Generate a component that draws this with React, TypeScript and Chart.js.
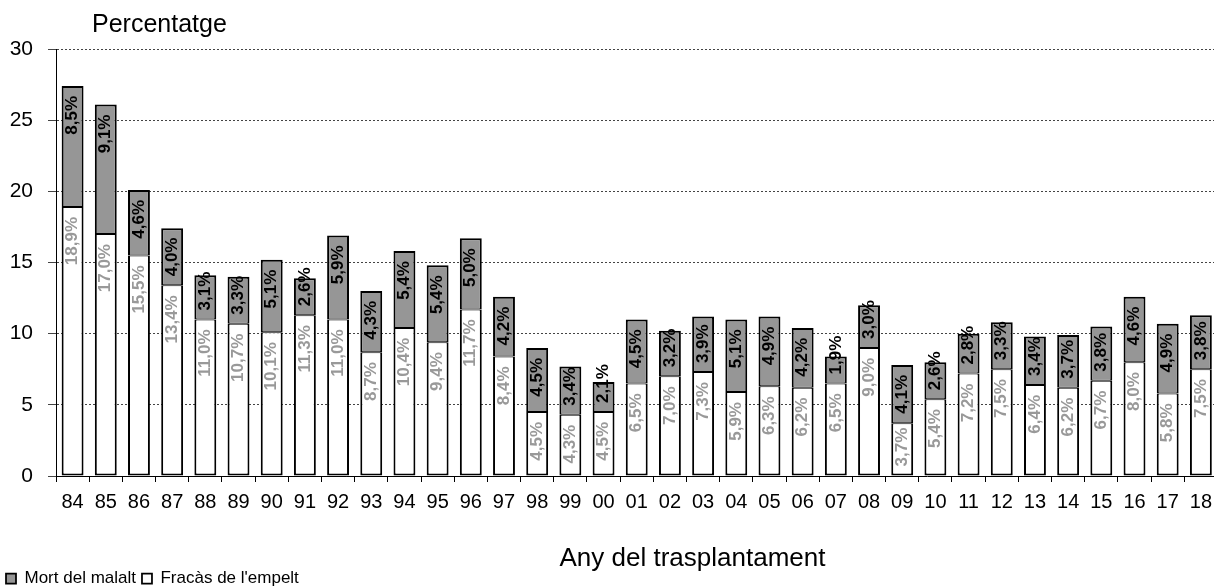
import React, { useEffect, useRef } from "react";
import { Chart, registerables } from "chart.js";

Chart.register(...registerables);

const FONT = '"Liberation Sans", Arial, sans-serif';

const years = ["84","85","86","87","88","89","90","91","92","93","94","95","96","97","98","99","00","01","02","03","04","05","06","07","08","09","10","11","12","13","14","15","16","17","18"];

const fracasEmpelt = [18.9,17.0,15.5,13.4,11.0,10.7,10.1,11.3,11.0,8.7,10.4,9.4,11.7,8.4,4.5,4.3,4.5,6.5,7.0,7.3,5.9,6.3,6.2,6.5,9.0,3.7,5.4,7.2,7.5,6.4,6.2,6.7,8.0,5.8,7.5];

const mortMalalt = [8.5,9.1,4.6,4.0,3.1,3.3,5.1,2.6,5.9,4.3,5.4,5.4,5.0,4.2,4.5,3.4,2.1,4.5,3.2,3.9,5.1,4.9,4.2,1.9,3.0,4.1,2.6,2.8,3.3,3.4,3.7,3.8,4.6,4.9,3.8];

const yTicks = [0, 5, 10, 15, 20, 25, 30];

const yTitle = "Percentatge";
const xTitle = "Any del trasplantament";
const labelFracas = "Fracàs de l'empelt";
const labelMort = "Mort del malalt";

const fmt = (v: number) => v.toFixed(1).replace(".", ",") + "%";

const barLabels = {
  id: "barLabels",
  afterDatasetsDraw(chart: any) {
    const ctx = chart.ctx;
    chart.data.datasets.forEach((ds: any, di: number) => {
      const meta = chart.getDatasetMeta(di);
      meta.data.forEach((bar: any, i: number) => {
        const v = ds.data[i];
        const { x, y, base } = bar.getProps(["x", "y", "base"], true);
        const text = fmt(v);
        ctx.save();
        ctx.font = `bold 17px ${FONT}`;
        const len = ctx.measureText(text).width;
        const top = Math.min(y, base);
        const bottom = Math.max(y, base);
        let end = top + 10;
        if (end + len > bottom - 9) end = bottom - 9 - len;
        ctx.translate(x, end);
        ctx.rotate(-Math.PI / 2);
        ctx.textAlign = "right";
        ctx.textBaseline = "middle";
        ctx.fillStyle = di === 0 ? "#999999" : "#000000";
        ctx.fillText(text, 0, 0);
        ctx.restore();
      });
    });
  },
};

const axisTitles = {
  id: "axisTitles",
  afterDraw(chart: any) {
    const { ctx, chartArea } = chart;
    ctx.save();
    ctx.fillStyle = "#000";
    ctx.textBaseline = "alphabetic";
    ctx.font = `25px ${FONT}`;
    ctx.textAlign = "left";
    ctx.fillText(yTitle, chartArea.left + 36, chartArea.top - 17);
    ctx.font = `26px ${FONT}`;
    ctx.textAlign = "center";
    ctx.fillText(xTitle, chartArea.left + chartArea.width * 0.548, chartArea.bottom + 90);
    ctx.restore();
  },
};

export default function App() {
  const ref = useRef<HTMLCanvasElement>(null);

  useEffect(() => {
    if (!ref.current) return;
    Chart.defaults.font.family = FONT;
    const chart = new Chart(ref.current, {
      type: "bar",
      data: {
        labels: years,
        datasets: [
          {
            label: labelFracas,
            data: fracasEmpelt,
            backgroundColor: "#ffffff",
            borderColor: "#000000",
            borderWidth: { top: 1, left: 2, right: 2, bottom: 2 },
            borderSkipped: false,
            barPercentage: 0.66,
            categoryPercentage: 1,
          },
          {
            label: labelMort,
            data: mortMalalt,
            backgroundColor: "#969696",
            borderColor: "#000000",
            borderWidth: { top: 2, left: 2, right: 2, bottom: 1 },
            borderSkipped: false,
            barPercentage: 0.66,
            categoryPercentage: 1,
          },
        ],
      },
      options: {
        responsive: false,
        animation: false,
        layout: { padding: { top: 49, left: 0, right: 0, bottom: -11 } },
        plugins: {
          legend: {
            position: "bottom",
            align: "start",
            reverse: true,
            labels: {
              color: "#000",
              font: { size: 17, family: FONT },
              boxWidth: 10,
              boxHeight: 10,
              padding: 6,
            },
          },
          tooltip: { enabled: false },
          title: { display: false },
        },
        scales: {
          x: {
            stacked: true,
            grid: {
              drawOnChartArea: false,
              drawTicks: true,
              tickLength: 6,
              color: "#000",
              tickColor: "#000",
              offset: true,
            },
            border: { display: true, color: "#000", width: 1 },
            ticks: {
              color: "#000",
              font: { size: 20, family: FONT },
              padding: 8,
              autoSkip: false,
              maxRotation: 0,
            },
            afterFit(scale: any) {
              scale.height = 88;
            },
          },
          y: {
            stacked: true,
            min: 0,
            max: 30,
            afterBuildTicks(scale: any) {
              scale.ticks = yTicks.map((v) => ({ value: v }));
            },
            ticks: {
              color: "#000",
              font: { size: 21, family: FONT },
              padding: 15,
            },
            grid: {
              color: "#444",
              lineWidth: 1,
              tickLength: 8,
              tickColor: "#444",
              tickBorderDash: [],
            },
            border: { display: true, color: "#000", width: 1, dash: [2, 2] },
            afterFit(scale: any) {
              scale.width = 56;
            },
          },
        },
      },
      plugins: [barLabels, axisTitles],
    });
    return () => chart.destroy();
  }, []);

  return (
    <div
      style={{
        position: "absolute",
        left: 0,
        top: 0,
        width: 1214,
        height: 586,
        overflow: "hidden",
        background: "#fff",
      }}
    >
      <canvas ref={ref} width={1220} height={586} style={{ display: "block" }} />
    </div>
  );
}
